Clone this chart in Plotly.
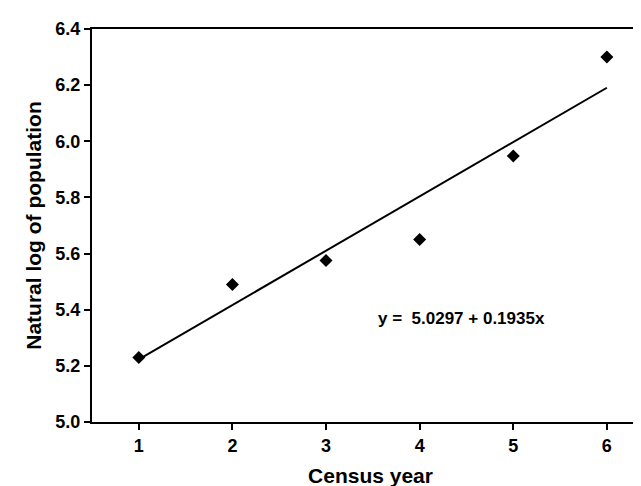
import plotly.graph_objects as go

census_year = [1, 2, 3, 4, 5, 6]
ln_population = [5.23, 5.49, 5.575, 5.65, 5.948, 6.30]
intercept = 5.0297
slope = 0.1935
x_ticks = [1, 2, 3, 4, 5, 6]
y_ticks = [5.0, 5.2, 5.4, 5.6, 5.8, 6.0, 6.2, 6.4]

fit_x = [census_year[0], census_year[-1]]
fit_y = [intercept + slope * v for v in fit_x]

FONT = "Liberation Sans, Arial, sans-serif"

fig = go.Figure()
fig.add_trace(go.Scatter(x=fit_x, y=fit_y, mode="lines",
                         line=dict(color="black", width=2), showlegend=False))
fig.add_trace(go.Scatter(x=census_year, y=ln_population, mode="markers",
                         marker=dict(symbol="diamond", size=10, color="black"),
                         showlegend=False))

fig.add_annotation(x=4.45, y=5.367, xref="x", yref="y",
                   text="<b>y =  5.0297 + 0.1935x</b>", showarrow=False,
                   font=dict(family=FONT, size=17, color="black"))

fig.update_layout(
    width=641, height=486,
    margin=dict(l=84, r=0, t=21, b=72, autoexpand=False),
    plot_bgcolor="white", paper_bgcolor="white",
    font=dict(family=FONT, color="black"),
    xaxis=dict(range=[0.5, 6.45], tickvals=x_ticks, ticktext=[f"<b>{v}</b>" for v in x_ticks],
               showgrid=False, zeroline=False, showline=True, linecolor="black", linewidth=2,
               mirror=True, ticks="outside", ticklen=6, tickwidth=2, tickcolor="black",
               tickfont=dict(size=18, family=FONT), automargin=False,
               title=dict(text="<b>Census year</b>", font=dict(size=21, family=FONT), standoff=14)),
    yaxis=dict(range=[5.0, 6.4], tickvals=y_ticks, ticktext=[f"<b>{v:.1f}</b>" for v in y_ticks],
               showgrid=False, zeroline=False, showline=True, linecolor="black", linewidth=2,
               ticks="outside", ticklen=6, tickwidth=2, tickcolor="black",
               tickfont=dict(size=18, family=FONT), automargin=False,
               title=dict(text="<b>Natural log of population</b>", font=dict(size=21, family=FONT), standoff=8)),
)

fig.write_html("out.html")
